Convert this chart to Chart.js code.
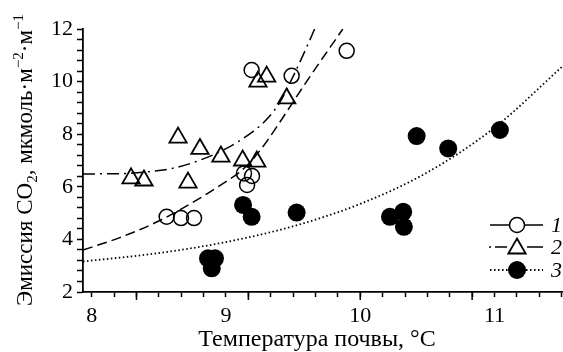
<!DOCTYPE html>
<html><head><meta charset="utf-8">
<script src="https://cdn.jsdelivr.net/npm/chart.js@4/dist/chart.umd.min.js"></script>
<style>html,body{margin:0;padding:0;background:#fff}#wrap{width:563px;height:352px}</style>
</head><body><div id="wrap"><canvas id="c" width="563" height="352"></canvas></div>
<script>
// ---- data ----
const series1X = [8.558, 8.665, 8.762, 9.134, 9.194, 9.157, 9.191, 9.489, 9.899];
const series1Y = [4.86, 4.81, 4.81, 6.51, 6.41, 6.07, 10.44, 10.22, 11.17];
const series2X = [8.293, 8.389, 8.717, 8.643, 8.806, 8.962, 9.124, 9.229, 9.238, 9.303, 9.452];
const series2Y = [6.32, 6.24, 6.16, 7.87, 7.44, 7.15, 7.0, 6.96, 10.0, 10.19, 9.36];
const series3X = [8.866, 8.918, 8.894, 9.127, 9.191, 9.526, 10.221, 10.32, 10.325, 10.42, 10.655, 11.04];
const series3Y = [3.28, 3.28, 2.90, 5.31, 4.86, 5.02, 4.86, 5.05, 4.48, 7.93, 7.46, 8.16];
const fit1X = [7.935, 8.2, 8.5, 8.8, 9.0, 9.1, 9.2, 9.3, 9.4, 9.6, 9.87];
const fit1Y = [3.6, 4.05, 4.7, 5.55, 6.2, 6.55, 7.05, 7.7, 8.45, 10.0, 12.0];
const fit2X = [7.935, 8.2, 8.4, 8.6, 8.8, 9.0, 9.2, 9.3, 9.4, 9.5, 9.6, 9.66];
const fit2Y = [6.49, 6.5, 6.56, 6.7, 7.0, 7.45, 8.1, 8.55, 9.2, 10.2, 11.3, 12.0];
const fit3X = [7.935, 8.5, 9.0, 9.5, 10.0, 10.5, 11.0, 11.51];
const fit3Y = [3.16, 3.48, 3.9, 4.5, 5.35, 6.55, 8.25, 10.6];
const xTickLabels = [8, 9, 10, 11];
const yTickLabels = [2, 4, 6, 8, 10, 12];
const legendLabels = ['1', '2', '3'];
const xTitle = 'Температура почвы, °C';
const yTitleParts = [
  {t: 'Эмиссия CO'}, {t: '2', sub: true}, {t: ', мкмоль·м'}, {t: '−2', sup: true},
  {t: '·м'}, {t: '−1', sup: true}
];

const pts = (xs, ys) => xs.map((x, i) => ({x: x, y: ys[i]}));
const FONT = '"Liberation Serif", "Times New Roman", serif';

const overlay = {
  id: 'overlay',
  afterDraw(chart) {
    const ctx = chart.ctx, a = chart.chartArea, xs = chart.scales.x;
    ctx.save();
    ctx.strokeStyle = '#000'; ctx.fillStyle = '#000';
    ctx.lineWidth = 1.5;
    xs.ticks.forEach((t, i) => {
      if (i % 5 === 2) {
        const px = xs.getPixelForValue(t.value);
        ctx.beginPath(); ctx.moveTo(px, a.bottom); ctx.lineTo(px, a.bottom + 8); ctx.stroke();
      }
    });
    // x title
    ctx.font = '24px ' + FONT; ctx.textAlign = 'center'; ctx.textBaseline = 'alphabetic';
    ctx.fillText(xTitle, 317, 346);
    // y title
    ctx.save();
    ctx.translate(32, 160); ctx.rotate(-Math.PI / 2);
    ctx.textAlign = 'left';
    const big = '23px ' + FONT, small = '15px ' + FONT;
    let total = 0;
    yTitleParts.forEach(p => { ctx.font = (p.sub || p.sup) ? small : big; total += ctx.measureText(p.t).width; });
    let cx = -total / 2;
    yTitleParts.forEach(p => {
      ctx.font = (p.sub || p.sup) ? small : big;
      const dy = p.sub ? 5 : (p.sup ? -9 : 0);
      ctx.fillText(p.t, cx, dy);
      cx += ctx.measureText(p.t).width;
    });
    ctx.restore();
    // legend
    const rows = [a.bottom - 67, a.bottom - 45, a.bottom - 22];
    const x0 = a.right - 73, x1 = a.right - 20, mx = a.right - 46;
    ctx.lineWidth = 1.5;
    ctx.setLineDash([]);
    ctx.beginPath(); ctx.moveTo(x0, rows[0]); ctx.lineTo(x1, rows[0]); ctx.stroke();
    ctx.beginPath(); ctx.arc(mx, rows[0], 7.5, 0, Math.PI * 2); ctx.fillStyle = '#fff'; ctx.fill(); ctx.stroke();
    ctx.beginPath(); ctx.moveTo(x0 - 1, rows[1]); ctx.lineTo(x0 + 1, rows[1]);
    ctx.moveTo(x0 + 5, rows[1]); ctx.lineTo(x0 + 17, rows[1]);
    ctx.moveTo(x0 + 37, rows[1]); ctx.lineTo(x1, rows[1]); ctx.stroke();
    const r = 10, cy = rows[1] + 1.5;
    ctx.beginPath();
    for (let k = 0; k < 3; k++) {
      const ang = k * 2 * Math.PI / 3;
      const px = mx + Math.sin(ang) * r, py = cy - Math.cos(ang) * r;
      if (k === 0) ctx.moveTo(px, py); else ctx.lineTo(px, py);
    }
    ctx.closePath(); ctx.fillStyle = '#fff'; ctx.fill(); ctx.lineWidth = 1.8; ctx.stroke();
    ctx.lineWidth = 1.8; ctx.setLineDash([1.5, 2.5]);
    ctx.beginPath(); ctx.moveTo(x0, rows[2]); ctx.lineTo(x1, rows[2]); ctx.stroke();
    ctx.setLineDash([]);
    ctx.beginPath(); ctx.arc(mx, rows[2], 9, 0, Math.PI * 2); ctx.fillStyle = '#000'; ctx.fill();
    ctx.fillStyle = '#000'; ctx.font = 'italic 22px ' + FONT; ctx.textAlign = 'left'; ctx.textBaseline = 'middle';
    legendLabels.forEach((l, i) => ctx.fillText(l, a.right - 12, rows[i] + 1));
    ctx.restore();
  }
};

new Chart(document.getElementById('c'), {
  type: 'scatter',
  data: {
    datasets: [
      {data: pts(series1X, series1Y), pointStyle: 'circle', pointRadius: 7.5, borderColor: '#000',
       backgroundColor: 'rgba(0,0,0,0)', borderWidth: 1.5, showLine: false},
      {data: pts(series2X, series2Y), pointStyle: 'triangle', pointRadius: 10, borderColor: '#000',
       backgroundColor: 'rgba(0,0,0,0)', borderWidth: 1.8, showLine: false},
      {data: pts(series3X, series3Y), pointStyle: 'circle', pointRadius: 9, borderColor: '#000',
       backgroundColor: '#000', borderWidth: 0, showLine: false},
      {data: pts(fit1X, fit1Y), showLine: true, pointRadius: 0, borderColor: '#000', borderWidth: 1.5,
       borderDash: [10, 5], cubicInterpolationMode: 'monotone'},
      {data: pts(fit2X, fit2Y), showLine: true, pointRadius: 0, borderColor: '#000', borderWidth: 1.5,
       borderDash: [12, 5, 2, 5], cubicInterpolationMode: 'monotone'},
      {data: pts(fit3X, fit3Y), showLine: true, pointRadius: 0, borderColor: '#000', borderWidth: 1.8,
       borderDash: [1.5, 2.5], cubicInterpolationMode: 'monotone'}
    ]
  },
  options: {
    responsive: false, animation: false, events: [],
    layout: {autoPadding: false, padding: {top: 29, right: 0, left: 0, bottom: 0}},
    plugins: {legend: {display: false}, tooltip: {enabled: false}},
    scales: {
      x: {
        type: 'linear', min: 7.935, max: 11.51,
        afterBuildTicks: s => { const t = []; for (let i = 0; i <= 21; i++) t.push({value: 8 + i / 6}); s.ticks = t; },
        afterFit: s => { s.height = 60; s.paddingLeft = 0; s.paddingRight = 0; },
        border: {color: '#000', width: 1.8},
        grid: {drawOnChartArea: false, drawTicks: true, tickLength: 5, color: '#000', tickWidth: 1.5},
        ticks: {autoSkip: false, maxRotation: 0, padding: 6, color: '#000', font: {family: FONT, size: 22},
          callback: v => { const r = Math.round(v); return (Math.abs(v - r) < 1e-6 && xTickLabels.includes(r)) ? String(r) : ''; }}
      },
      y: {
        type: 'linear', min: 2, max: 12,
        afterFit: s => { s.width = 83; s.paddingTop = 0; s.paddingBottom = 0; },
        border: {color: '#000', width: 1.8},
        grid: {drawOnChartArea: false, drawTicks: true, tickLength: 6, color: '#000', tickWidth: 1.5},
        ticks: {stepSize: 0.4, autoSkip: false, padding: 4, color: '#000', font: {family: FONT, size: 22},
          callback: v => { const r = Math.round(v); return (Math.abs(v - r) < 1e-6 && yTickLabels.includes(r)) ? String(r) : ''; }}
      }
    }
  },
  plugins: [overlay]
});
</script>
</body></html>
